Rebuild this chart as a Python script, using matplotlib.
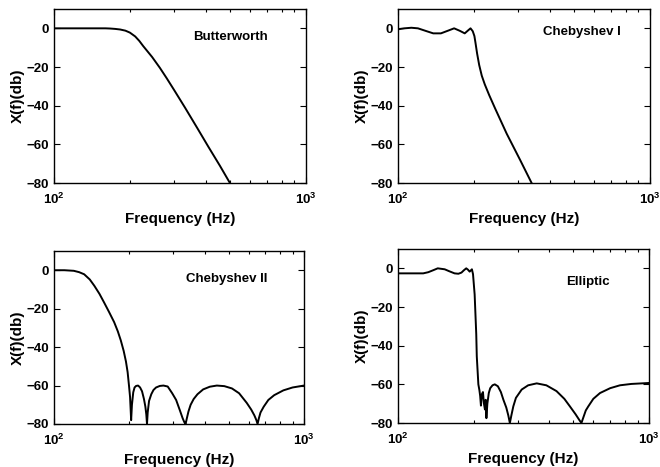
import matplotlib
matplotlib.use("Agg")
import matplotlib.pyplot as plt
from matplotlib.ticker import LogLocator, NullFormatter, FixedLocator

plt.rcParams['font.family'] = ['Liberation Sans', 'DejaVu Sans']
plt.rcParams['font.weight'] = 'bold'
plt.rcParams['mathtext.default'] = 'bf'

# Magnitude responses (frequency in Hz, magnitude in dB)
butter_f = [100, 140, 160, 167, 175, 183, 192, 200, 210, 218, 226, 245, 263, 280, 300, 331, 370, 410, 455, 499]
butter_db = [0, 0, 0, -0.1, -0.3, -0.6, -1.2, -2.2, -4.2, -6.5, -9.2, -14.8, -20.4, -25.8, -32, -41, -51.5, -61.3, -71, -80]

cheb1_f = [100, 106, 113, 120, 130, 138, 148, 158, 167, 176, 184, 190, 194, 198, 201, 203, 206, 210, 215, 221, 230, 243, 270, 305, 339]
cheb1_db = [-0.5, 0, 0.3, 0, -1.5, -2.6, -2.6, -1.2, 0, -1.3, -2.6, -1.0, 0, -1.5, -4, -7.5, -13, -19, -24.5, -29, -34.5, -41.5, -54.5, -68, -80]

cheb2_f = [100, 110, 120, 126, 132, 139, 145, 152, 158.5, 166, 174, 180, 185, 190, 194,
           197, 199.5, 201.5, 203.5, 205, 207.5, 210, 213, 217, 221, 225, 229, 232, 234, 235.5,
           237, 240, 245, 250, 256, 265, 274, 285, 297, 308, 319, 327, 332, 336, 340,
           345, 352, 362, 375, 395, 420, 448, 480, 515, 550, 590, 615, 633, 645, 652,
           660, 670, 690, 720, 760, 827, 900, 1000]
cheb2_db = [0, 0, -0.3, -1, -2.1, -4.8, -8.1, -12.3, -16.7, -21.7, -27, -31.8, -36.5, -42, -47.5,
            -53, -60, -66, -78, -70, -63.5, -61, -60.2, -60, -61, -63, -67, -71, -75, -80,
            -74, -68, -64.5, -62.3, -61, -60.2, -60, -60.5, -64, -67.5, -73, -77, -79, -80, -77,
            -73.5, -70, -67, -64.5, -62, -60.6, -60, -60.3, -61.5, -64, -69, -72.5, -75.5, -78, -80,
            -77, -74, -71, -67.5, -65, -62.5, -61, -60]

ellip_f = [100, 126, 132, 138, 144, 153.5, 160, 168, 174, 179, 183, 187, 190, 193, 197,
           199, 202, 205, 206, 209, 211, 212.5, 214, 216, 218, 220, 222, 223.5, 225, 227,
           230, 233, 238, 243, 250, 257, 263, 270, 275, 279, 283, 288, 295, 311, 330,
           357, 390, 428, 460, 484, 510, 528, 538, 548, 560, 573, 600, 638, 700, 766,
           850, 1000]
ellip_db = [-2.6, -2.6, -2.0, -1.0, 0, -0.5, -1.5, -2.6, -2.8, -2.2, -1.0, 0, -0.7, -1.7, -0.5,
            -3, -13.5, -34, -45.5, -60, -63, -66, -71, -65, -64, -70, -73, -68, -77.5, -70,
            -64.5, -62, -60.5, -60, -61, -64, -68, -72, -76, -80, -76, -71.4, -67, -62.7, -60.5,
            -59.5, -60.5, -63.5, -67.5, -71.4, -75.5, -78.5, -80, -77, -73.5, -71.4, -67.5, -64.5, -62, -60.5,
            -59.8, -59.3]

titles = ["Butterworth", "Chebyshev I", "Chebyshev II", "Elliptic"]
title_pos = [(0.70, 0.84), (0.73, 0.87), (0.69, 0.836), (0.755, 0.81)]
y_ticks = [0, -20, -40, -60, -80]

panels = [
    (butter_f, butter_db, [54, 9, 252, 174]),
    (cheb1_f, cheb1_db, [398, 9, 252, 174]),
    (cheb2_f, cheb2_db, [54, 251, 250, 173]),
    (ellip_f, ellip_db, [398, 249, 251, 174]),
]

W, H = 660, 467
fig = plt.figure(figsize=(W / 100, H / 100), dpi=100)

for (f, db, box), title, tpos in zip(panels, titles, title_pos):
    x, y, w, h = box
    ax = fig.add_axes([x / W, 1 - (y + h) / H, w / W, h / H])
    ax.semilogx(f, db, color='black', lw=1.4)
    ax.set_xlim(100, 1000)
    ax.set_ylim(-80, 10)
    ax.yaxis.set_major_locator(FixedLocator(y_ticks))
    ax.xaxis.set_major_locator(LogLocator(base=10))
    ax.xaxis.set_minor_locator(LogLocator(base=10, subs=range(2, 10)))
    ax.xaxis.set_minor_formatter(NullFormatter())
    ax.tick_params(which='both', direction='in', top=True, right=True,
                   labelsize=9.5, width=0.8, color='black')
    ax.tick_params(which='major', length=4)
    ax.tick_params(which='minor', length=2)
    ax.tick_params(axis='x', which='major', pad=6)
    for sp in ax.spines.values():
        sp.set_linewidth(1.0)
    ax.set_xlabel("Frequency (Hz)", fontsize=11, fontweight='bold', labelpad=4)
    ax.set_ylabel("X(f)(db)", fontsize=11, fontweight='bold', labelpad=1)
    ax.text(tpos[0], tpos[1], title, transform=ax.transAxes, ha='center', va='center',
            fontsize=9.5, fontweight='bold')

fig.savefig("out.png", dpi=100)
